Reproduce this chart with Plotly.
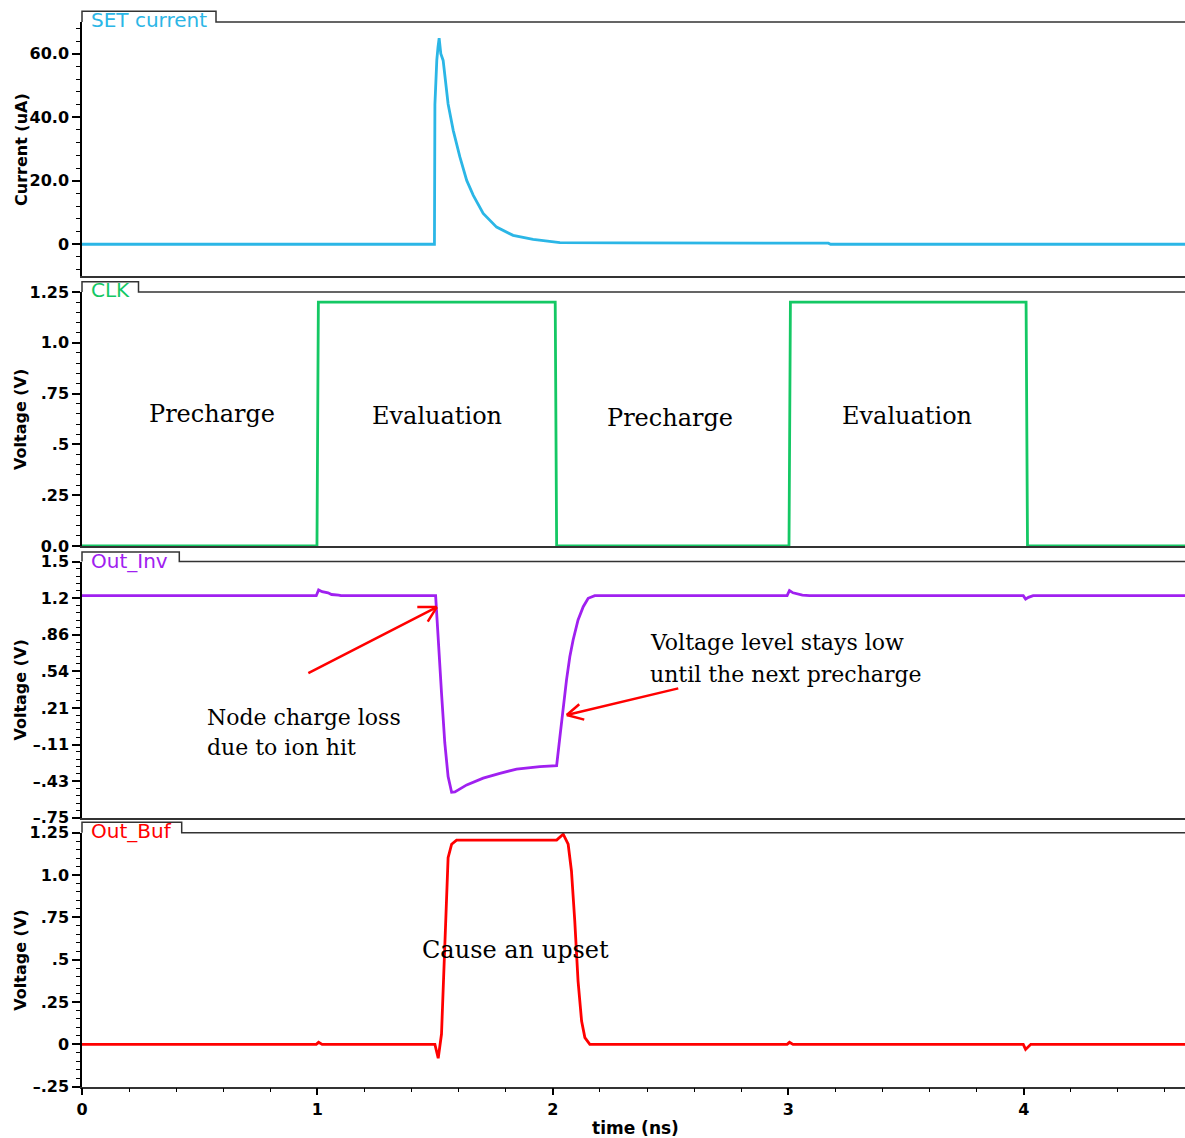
import plotly.graph_objects as go

# ---------------- data ----------------
t_set = [0, 1.497, 1.499, 1.503, 1.507, 1.512, 1.517, 1.524, 1.534, 1.555, 1.577, 1.605,
         1.634, 1.662, 1.704, 1.761, 1.831, 1.916, 2.03, 2.30, 3.17, 3.18, 4.685]
i_set = [0, 0, 44, 52, 58, 62, 64.9, 60, 57.9, 44.2, 35.8, 27.5,
         20.1, 15.4, 9.7, 5.4, 2.8, 1.5, 0.5, 0.45, 0.35, 0, 0]

t_clk = [0, 0.998, 1.004, 2.010, 2.016, 3.003, 3.009, 4.010, 4.016, 4.685]
v_clk = [0, 0, 1.2, 1.2, 0, 0, 1.2, 1.2, 0, 0]

t_inv = [0, 0.995, 1.005, 1.02, 1.045, 1.06, 1.09, 1.10,
         1.502, 1.513, 1.527, 1.541, 1.555, 1.570, 1.584, 1.634, 1.704, 1.775, 1.846,
         1.945, 2.016, 2.030, 2.044, 2.058, 2.072, 2.086, 2.107, 2.129, 2.150, 2.178,
         2.995, 3.005, 3.02, 3.045, 3.06, 3.09, 3.10,
         3.998, 4.008, 4.02, 4.04, 4.685]
v_inv = [1.2, 1.2, 1.25, 1.235, 1.225, 1.21, 1.205, 1.2,
         1.2, 0.784, 0.345, -0.094, -0.389, -0.526, -0.524, -0.462, -0.403, -0.360, -0.324,
         -0.302, -0.293, -0.038, 0.225, 0.460, 0.664, 0.811, 0.986, 1.103, 1.177, 1.2,
         1.2, 1.245, 1.225, 1.215, 1.205, 1.2, 1.2,
         1.2, 1.17, 1.185, 1.2, 1.2]

t_buf = [0, 0.995, 1.005, 1.02, 1.499, 1.513, 1.527, 1.534, 1.541, 1.549, 1.555, 1.570,
         1.591, 2.016, 2.044, 2.065, 2.079, 2.093, 2.107, 2.122, 2.136, 2.157,
         2.995, 3.005, 3.02, 3.998, 4.008, 4.03, 4.685]
v_buf = [0, 0, 0.012, 0, 0, -0.082, 0.061, 0.335, 0.630, 0.926, 1.103, 1.182,
         1.206, 1.206, 1.241, 1.182, 1.024, 0.729, 0.374, 0.138, 0.040, 0.0,
         0, 0.012, 0, 0, -0.03, 0, 0]

x_ticks = [0, 1, 2, 3, 4]
y1_ticks = [0, 20, 40, 60]
y1_text = ["0", "20.0", "40.0", "60.0"]
y2_ticks = [0, 0.25, 0.5, 0.75, 1.0, 1.25]
y2_text = ["0.0", ".25", ".5", ".75", "1.0", "1.25"]
y3_ticks = [round(-0.75 + i * 2.25 / 7, 6) for i in range(8)]
y3_text = ["\u2013.75", "\u2013.43", "\u2013.11", ".21", ".54", ".86", "1.2", "1.5"]
y4_ticks = [-0.25, 0, 0.25, 0.5, 0.75, 1.0, 1.25]
y4_text = ["\u2013.25", "0", ".25", ".5", ".75", "1.0", "1.25"]

names = ["SET current", "CLK", "Out_Inv", "Out_Buf"]
colors = ["#2BB6E6", "#14C864", "#A020F0", "#FF0000"]

# ---------------- layout geometry (pixels) ----------------
W, H = 1185, 1138
ML = 82
PW = W - ML
XMAX = 4.685
panels = [(22, 276), (292, 546), (561.5, 817.7), (832.7, 1086.7)]
tab_top = [11.3, 281.7, 552, 822.3]
tab_right = [216, 138.5, 179.3, 181.7]
tab_text_y = [20, 290, 561, 831]


def py(p):
    return 1 - p / H


def px(p):
    return (p - ML) / PW


fig = go.Figure()
series = [(t_set, i_set), (t_clk, v_clk), (t_inv, v_inv), (t_buf, v_buf)]
for k, (tx, vy) in enumerate(series):
    sfx = "" if k == 0 else str(k + 1)
    fig.add_trace(go.Scatter(x=tx, y=vy, mode="lines", name=names[k],
                             line=dict(color=colors[k], width=2.8),
                             xaxis="x" + sfx, yaxis="y" + sfx, showlegend=False,
                             hoverinfo="skip"))

tickfont = dict(family="DejaVu Sans", size=16, color="black", weight="bold")
yranges = [[-10, 70], [0, 1.25], [-0.75, 1.5], [-0.25, 1.25]]
yticks = [(y1_ticks, y1_text, 0, 4), (y2_ticks, y2_text, 0, 0.05),
          (y3_ticks, y3_text, -0.75, 2.25 / 35), (y4_ticks, y4_text, 0, 0.05)]

lay = {}
for k in range(4):
    sfx = "" if k == 0 else str(k + 1)
    top, bot = panels[k]
    xa = dict(domain=[0, 1], range=[0, XMAX], anchor="y" + sfx, showline=True,
              linecolor="#333333", linewidth=1.5, showgrid=False, zeroline=False,
              fixedrange=True, automargin=False)
    if k < 3:
        xa.update(ticks="", showticklabels=False)
    else:
        xa.update(ticks="outside", tickmode="array", tickvals=x_ticks,
                  ticktext=[str(v) for v in x_ticks], ticklen=7, tickwidth=1.5,
                  tickcolor="black", tickfont=tickfont,
                  minor=dict(tickmode="linear", tick0=0, dtick=0.2, ticks="outside",
                             ticklen=4, tickwidth=1.2, tickcolor="black"))
    tv, tt, t0, mdt = yticks[k]
    ya = dict(domain=[py(bot), py(top)], range=yranges[k], anchor="x" + sfx,
              showline=True, linecolor="black", linewidth=1.5, showgrid=False,
              zeroline=False, ticks="outside", tickmode="array", tickvals=tv,
              ticktext=tt, ticklen=8, tickwidth=1.5, tickcolor="black",
              tickfont=tickfont, fixedrange=True, automargin=False,
              minor=dict(tickmode="linear", tick0=t0, dtick=mdt, ticks="outside",
                         ticklen=4, tickwidth=1.2, tickcolor="black"))
    lay["xaxis" + sfx] = xa
    lay["yaxis" + sfx] = ya

shapes = []
annotations = []
for k in range(4):
    top = panels[k][0]
    path = "M {a},{b} L {a},{c} L {d},{c} L {d},{b} L 1,{b}".format(
        a=0, b=py(top), c=py(tab_top[k]), d=px(tab_right[k]))
    shapes.append(dict(type="path", path=path, xref="paper", yref="paper",
                       line=dict(color="#333333", width=1.5)))
    annotations.append(dict(text=names[k], xref="paper", yref="paper",
                            x=px(89), y=py(tab_text_y[k]), xanchor="left",
                            yanchor="middle", showarrow=False,
                            font=dict(family="DejaVu Sans", size=20, color=colors[k])))

# axis titles
ytitles = ["Current (uA)", "Voltage (V)", "Voltage (V)", "Voltage (V)"]
for k in range(4):
    top, bot = panels[k]
    annotations.append(dict(text=ytitles[k], xref="paper", yref="paper",
                            x=px(21), y=py((top + bot) / 2), textangle=-90,
                            xanchor="center", yanchor="middle", showarrow=False,
                            font=dict(family="DejaVu Sans", size=16, color="black",
                                      weight="bold")))
annotations.append(dict(text="time (ns)", xref="paper", yref="paper",
                        x=px(635), y=py(1128), xanchor="center", yanchor="middle",
                        showarrow=False,
                        font=dict(family="DejaVu Sans", size=17, color="black",
                                  weight="bold")))

serif = "DejaVu Serif"
# phase labels (CLK panel)
for txt, xx, yy in [("Precharge", 0.552, 0.65), ("Evaluation", 1.509, 0.64),
                    ("Precharge", 2.497, 0.63), ("Evaluation", 3.505, 0.64)]:
    annotations.append(dict(text=txt, xref="x2", yref="y2", x=xx, y=yy,
                            xanchor="center", yanchor="middle", showarrow=False,
                            font=dict(family=serif, size=24, color="black")))
# Out_Inv notes
for txt, xx, yy in [("Voltage level stays low", 2.405, 0.79),
                    ("until the next precharge", 2.405, 0.51),
                    ("Node charge loss", 0.521, 0.13),
                    ("due to ion hit", 0.521, -0.135)]:
    annotations.append(dict(text=txt, xref="x3", yref="y3", x=xx, y=yy,
                            xanchor="left", yanchor="middle", showarrow=False,
                            font=dict(family=serif, size=22, color="black")))
annotations.append(dict(text="Cause an upset", xref="x4", yref="y4", x=1.843, y=0.56,
                        xanchor="center", yanchor="middle", showarrow=False,
                        font=dict(family=serif, size=24, color="black")))

# red arrows (shaft + open V head)
arrows = [((1.507, 1.10), (0.955, 0.512), [(-21, 0), (-10, 16)]),
          ((2.059, 0.152), (2.539, 0.389), [(14, -12), (19, 5)])]
for (hx, hy), (tx, ty), barbs in arrows:
    annotations.append(dict(text="", x=hx, y=hy, xref="x3", yref="y3",
                            ax=tx, ay=ty, axref="x3", ayref="y3", showarrow=True,
                            arrowhead=0, arrowwidth=2.5, arrowcolor="#FF0000",
                            standoff=0, startstandoff=0))
    for bx, by in barbs:
        annotations.append(dict(text="", x=hx, y=hy, xref="x3", yref="y3",
                                ax=bx, ay=by, showarrow=True, arrowhead=0,
                                arrowwidth=2.5, arrowcolor="#FF0000",
                                standoff=0, startstandoff=0))

fig.update_layout(width=W, height=H, autosize=False,
                  margin=dict(l=ML, r=0, t=0, b=0, autoexpand=False),
                  paper_bgcolor="white", plot_bgcolor="white",
                  shapes=shapes, annotations=annotations, showlegend=False, **lay)

fig.write_html("out.html", config={"displayModeBar": False},
               post_script="document.body.style.margin='0';document.body.style.overflow='hidden';")
